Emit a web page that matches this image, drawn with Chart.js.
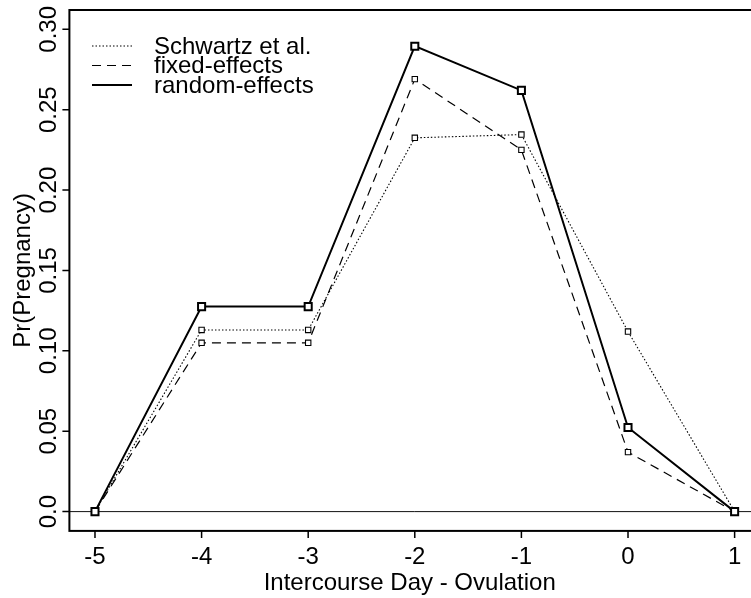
<!DOCTYPE html>
<html>
<head>
<meta charset="utf-8">
<script src="https://cdn.jsdelivr.net/npm/chart.js@4.4.1/dist/chart.umd.min.js"></script>
<style>
  html, body { margin: 0; padding: 0; background: #fff; overflow: hidden; }
  #wrap { position: relative; width: 780px; height: 598px; }
</style>
</head>
<body>
<div id="wrap"><canvas id="c"></canvas></div>
<script>
// Probability of pregnancy by day of intercourse relative to ovulation
const days = [-5, -4, -3, -2, -1, 0, 1];
const schwartz = [0, 0.113, 0.113, 0.2325, 0.2345, 0.112, 0];
const fixedEffects = [0, 0.105, 0.105, 0.269, 0.225, 0.037, 0];
const randomEffects = [0, 0.1275, 0.1275, 0.2895, 0.262, 0.0523, 0];

const xTicks = [-5, -4, -3, -2, -1, 0, 1];
const xTickLabels = ['-5', '-4', '-3', '-2', '-1', '0', '1'];
const yTicks = [0, 0.05, 0.10, 0.15, 0.20, 0.25, 0.30];
const yTickLabels = ['0.0', '0.05', '0.10', '0.15', '0.20', '0.25', '0.30'];
const seriesNames = ['Schwartz et al.', 'fixed-effects', 'random-effects'];
const xTitle = 'Intercourse Day - Ovulation';
const yTitle = 'Pr(Pregnancy)';

const FONT = '"Liberation Sans", Arial, Helvetica, sans-serif';
const pts = vals => days.map((d, i) => ({ x: d, y: vals[i] }));

const styles = {
  schwartz: { width: 1.1, dash: [1.5, 2], r: 3.8, pw: 1.1 },
  fixed:    { width: 1.2, dash: [9, 6],   r: 3.8, pw: 1.1 },
  random:   { width: 2,   dash: [],       r: 5,   pw: 2 }
};

function ds(label, vals, s) {
  return {
    label, data: pts(vals),
    borderColor: '#000', borderWidth: s.width, borderDash: s.dash,
    pointStyle: 'rect', pointRadius: s.r, pointBorderWidth: s.pw,
    pointBackgroundColor: '#fff', pointBorderColor: '#000',
    tension: 0, fill: false
  };
}

// Axes, frame, reference line and legend drawn in base-graphics style
const decor = {
  id: 'decor',
  beforeDatasetsDraw(chart) {
    const { ctx, chartArea: a, scales: { y } } = chart;
    const y0 = y.getPixelForValue(0);
    ctx.save();
    ctx.strokeStyle = '#111';
    ctx.lineWidth = 1;
    ctx.beginPath();
    ctx.moveTo(a.left, y0);
    ctx.lineTo(a.right, y0);
    ctx.stroke();
    ctx.restore();
  },
  afterDraw(chart) {
    const { ctx, chartArea: a, scales: { x, y } } = chart;
    ctx.save();
    ctx.strokeStyle = '#000';
    ctx.fillStyle = '#000';
    ctx.lineWidth = 2;
    // frame
    ctx.strokeRect(a.left, a.top, a.right - a.left, a.bottom - a.top);
    // ticks
    ctx.lineWidth = 1.5;
    ctx.beginPath();
    xTicks.forEach(v => {
      const px = x.getPixelForValue(v);
      ctx.moveTo(px, a.bottom);
      ctx.lineTo(px, a.bottom + 7);
    });
    yTicks.forEach(v => {
      const py = y.getPixelForValue(v);
      ctx.moveTo(a.left, py);
      ctx.lineTo(a.left - 7, py);
    });
    ctx.stroke();

    ctx.font = '24px ' + FONT;
    // x tick labels
    ctx.textAlign = 'center';
    ctx.textBaseline = 'alphabetic';
    xTicks.forEach((v, i) => {
      ctx.fillText(xTickLabels[i], x.getPixelForValue(v), a.bottom + 33);
    });
    // x title
    ctx.fillText(xTitle, (a.left + 760) / 2 - 5, 590);
    // y tick labels (rotated)
    yTicks.forEach((v, i) => {
      ctx.save();
      ctx.translate(a.left - 13, y.getPixelForValue(v));
      ctx.rotate(-Math.PI / 2);
      ctx.fillText(yTickLabels[i], 0, 0);
      ctx.restore();
    });
    // y title
    ctx.save();
    ctx.translate(30, (a.top + a.bottom) / 2);
    ctx.rotate(-Math.PI / 2);
    ctx.fillText(yTitle, 0, 0);
    ctx.restore();

    // legend
    const rows = [
      { s: styles.schwartz, y: 46 },
      { s: styles.fixed, y: 65.5 },
      { s: styles.random, y: 85 }
    ];
    ctx.textAlign = 'left';
    ctx.textBaseline = 'middle';
    rows.forEach((r, i) => {
      ctx.lineWidth = r.s.width;
      ctx.setLineDash(r.s.dash);
      ctx.beginPath();
      ctx.moveTo(92, r.y);
      ctx.lineTo(132, r.y);
      ctx.stroke();
      ctx.setLineDash([]);
      ctx.fillText(seriesNames[i], 154, r.y + 1);
    });
    ctx.restore();
  }
};

new Chart(document.getElementById('c'), {
  type: 'line',
  data: {
    datasets: [
      ds(seriesNames[2], randomEffects, styles.random),
      ds(seriesNames[1], fixedEffects, styles.fixed),
      ds(seriesNames[0], schwartz, styles.schwartz)
    ]
  },
  options: {
    responsive: true,
    maintainAspectRatio: false,
    devicePixelRatio: 1,
    animation: false,
    layout: { padding: { left: 69.4, right: 19.8, top: 10, bottom: 67.1 } },
    scales: {
      x: { type: 'linear', min: -5.24, max: 1.24, display: false },
      y: { type: 'linear', min: -0.012, max: 0.312, display: false }
    },
    plugins: { legend: { display: false }, tooltip: { enabled: false } },
    events: []
  },
  plugins: [decor]
});
</script>
</body>
</html>
